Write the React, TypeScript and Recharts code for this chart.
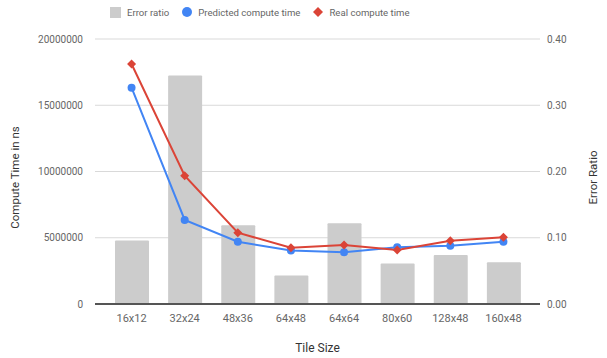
import { Bar, CartesianGrid, ComposedChart, Line, XAxis, YAxis } from 'recharts';

const tileSizes = ['16x12', '32x24', '48x36', '64x48', '64x64', '80x60', '128x48', '160x48'];
const errorRatio = [0.096, 0.345, 0.119, 0.043, 0.122, 0.061, 0.074, 0.063];
const predictedTime = [16330000, 6340000, 4700000, 4030000, 3900000, 4280000, 4400000, 4700000];
const realTime = [18110000, 9680000, 5380000, 4250000, 4450000, 4080000, 4780000, 5030000];

const timeTicks = [0, 5000000, 10000000, 15000000, 20000000];
const ratioTicks = [0, 0.1, 0.2, 0.3, 0.4];

const COLORS = {
  bar: '#cccccc',
  predicted: '#4285f4',
  real: '#db4437',
  grid: '#d9d9d9',
  baseline: '#555555',
  tick: '#666666',
  title: '#333333',
};

const FONT = 'Roboto, "Noto Sans", sans-serif';

const rows = tileSizes.map((size, i) => ({
  size,
  ratio: errorRatio[i],
  predicted: predictedTime[i],
  real: realTime[i],
}));

function Diamond(props: any) {
  const { cx, cy } = props;
  if (cx == null || cy == null) return null;
  const r = 4.5;
  return (
    <polygon
      points={`${cx},${cy - r} ${cx + r},${cy} ${cx},${cy + r} ${cx - r},${cy}`}
      fill={COLORS.real}
    />
  );
}

function SideTitle(props: any & { text: string; dx: number }) {
  const { viewBox, text, dx } = props;
  const x = viewBox.x + dx;
  const y = viewBox.y + viewBox.height / 2 + 6;
  return (
    <text
      x={x}
      y={y}
      transform={`rotate(-90, ${x}, ${y})`}
      textAnchor="middle"
      dominantBaseline="central"
      fontFamily={FONT}
      fontSize={11.5}
      fill={COLORS.title}
    >
      {text}
    </text>
  );
}

function BottomTitle(props: any) {
  const { viewBox } = props;
  return (
    <text
      x={viewBox.x + viewBox.width / 2}
      y={viewBox.y + 44}
      textAnchor="middle"
      dominantBaseline="central"
      fontFamily={FONT}
      fontSize={12}
      fill={COLORS.title}
    >
      Tile Size
    </text>
  );
}

function LegendRow() {
  const item = { display: 'flex', alignItems: 'center', gap: 6, marginRight: 13 } as const;
  return (
    <div
      style={{
        position: 'absolute',
        top: 4,
        left: 110,
        display: 'flex',
        alignItems: 'center',
        height: 16,
        fontFamily: FONT,
        fontSize: 9.6,
        color: COLORS.tick,
      }}
    >
      <div style={item}>
        <svg width={11} height={11}>
          <rect width={11} height={11} fill={COLORS.bar} />
        </svg>
        <span>Error ratio</span>
      </div>
      <div style={item}>
        <svg width={10} height={10}>
          <circle cx={5} cy={5} r={5} fill={COLORS.predicted} />
        </svg>
        <span>Predicted compute time</span>
      </div>
      <div style={item}>
        <svg width={10} height={10}>
          <polygon points="5,0 10,5 5,10 0,5" fill={COLORS.real} />
        </svg>
        <span>Real compute time</span>
      </div>
    </div>
  );
}

export default function App() {
  const tickStyle = { fill: COLORS.tick, fontSize: 10, fontFamily: FONT };
  return (
    <div style={{ position: 'absolute', top: 0, left: 0, width: 607, height: 358, background: '#fff' }}>
      <ComposedChart width={607} height={358} data={rows} margin={{ top: 39, right: 0, bottom: 0, left: 0 }}>
        <CartesianGrid yAxisId="time" vertical={false} stroke={COLORS.grid} strokeWidth={1} />
        <XAxis
          dataKey="size"
          height={54}
          padding={{ left: 10, right: 10 }}
          axisLine={{ stroke: COLORS.baseline, strokeWidth: 2 }}
          tickLine={false}
          tickMargin={4}
          tick={{ ...tickStyle, fontSize: 11 }}
          label={<BottomTitle />}
        />
        <YAxis
          yAxisId="time"
          width={95}
          domain={[0, 20000000]}
          ticks={timeTicks}
          axisLine={false}
          tickLine={false}
          tickMargin={6}
          tick={tickStyle}
          label={<SideTitle text="Compute Time in ns" dx={15} />}
        />
        <YAxis
          yAxisId="ratio"
          orientation="right"
          width={67}
          domain={[0, 0.4]}
          ticks={ratioTicks}
          axisLine={false}
          tickLine={false}
          tickMargin={1}
          tick={tickStyle}
          tickFormatter={(v: number) => v.toFixed(2)}
          label={<SideTitle text="Error Ratio" dx={53} />}
        />
        <Bar yAxisId="ratio" dataKey="ratio" fill={COLORS.bar} barSize={34} radius={[1, 1, 0, 0]} isAnimationActive={false} />
        <Line
          yAxisId="time"
          dataKey="predicted"
          stroke={COLORS.predicted}
          strokeWidth={2}
          dot={{ r: 4, fill: COLORS.predicted, stroke: COLORS.predicted, strokeWidth: 0 }}
          activeDot={false}
          isAnimationActive={false}
        />
        <Line
          yAxisId="time"
          dataKey="real"
          stroke={COLORS.real}
          strokeWidth={2}
          dot={<Diamond />}
          activeDot={false}
          isAnimationActive={false}
        />
      </ComposedChart>
      <LegendRow />
    </div>
  );
}
